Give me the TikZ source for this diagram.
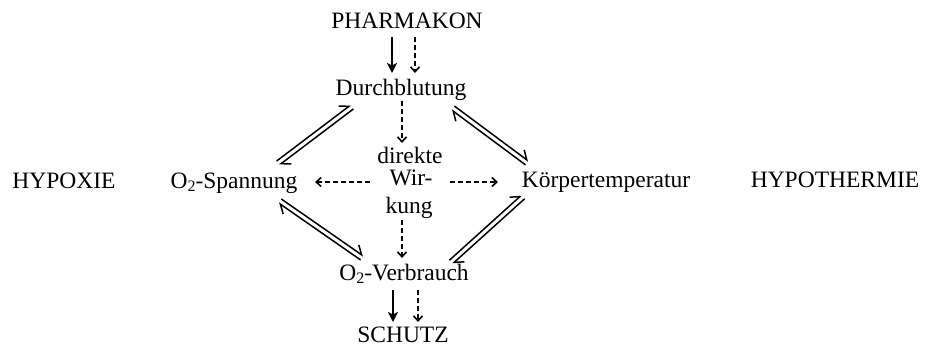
\documentclass[tikz,border=0pt]{standalone}
\usepackage{fontspec}
\setmainfont{Liberation Serif}
\usetikzlibrary{arrows.meta,calc}

% O with a lowered, small "2"
\newcommand\Otwo{O\raisebox{-0.14em}{\fontsize{16}{16}\selectfont 2}}

% two parallel harpoons running in opposite directions between two points
\newcommand\eqpair[2]{%
  \draw[harp] ($(#1)!2.4pt!90:(#2)$) -- ($(#2)!2.4pt!-90:(#1)$);
  \draw[harp] ($(#2)!2.4pt!90:(#1)$) -- ($(#1)!2.4pt!-90:(#2)$);
}

\tikzset{
  lbl/.style={anchor=base, inner sep=0pt, font=\fontsize{23.5}{28}\selectfont},
  solidarrow/.style={line width=1.9pt, -{Stealth[length=10pt,width=10pt,inset=2.5pt]}},
  dasharrow/.style={line width=1.2pt, dash pattern=on 5pt off 3pt,
    -{Straight Barb[length=5pt,width=9pt,line width=1.6pt]}},
  harp/.style={line width=1.5pt, -{Straight Barb[harpoon,left,length=8pt,width=13pt,line width=1.5pt]}},
}

\begin{document}
\begin{tikzpicture}[x=1pt,y=-1pt]
  \useasboundingbox (0,0) rectangle (926,348);

  % labels
  \node[lbl] (hypox)   at (64,188)  {HYPOXIE};
  \node[lbl] (o2sp)    at (234,188) {\Otwo-Spannung};
  \node[lbl] (pharm)   at (407,28)  {PHARMAKON};
  \node[lbl] (durch)   at (401,95)  {Durchblutung};
  \node[lbl] (direkte) at (410,163) {direkte};
  \node[lbl] (wir)     at (411,185) {Wir-};
  \node[lbl] (kung)    at (409,213) {kung};
  \node[lbl] (koerp)   at (606,187) {Körpertemperatur};
  \node[lbl] (hypoth)  at (835,187) {HYPOTHERMIE};
  \node[lbl] (o2v)     at (404,280) {\Otwo-Verbrauch};
  \node[lbl] (schutz)  at (403,342) {SCHUTZ};

  % drug acting on blood flow
  \draw[solidarrow] ([xshift=-15pt,yshift=-9pt]pharm.base) -- ([xshift=-9pt,yshift=22pt]durch.base);
  \draw[dasharrow]  ([xshift=8pt,yshift=-9pt]pharm.base)   -- ([xshift=14pt,yshift=22pt]durch.base);

  % direct effect
  \draw[dasharrow] ([xshift=1pt,yshift=-6pt]durch.base)  -- ([xshift=-8pt,yshift=20pt]direkte.base);
  \draw[dasharrow] ([xshift=-41pt,yshift=3pt]wir.base)   -- ([xshift=81pt,yshift=6pt]o2sp.base);
  \draw[dasharrow] ([xshift=39pt,yshift=3pt]wir.base)    -- ([xshift=-108pt,yshift=5pt]koerp.base);
  \draw[dasharrow] ([xshift=-7pt,yshift=-7pt]kung.base)  -- ([xshift=-2pt,yshift=22pt]o2v.base);

  % oxygen consumption leading to protection
  \draw[solidarrow] ([xshift=-11pt,yshift=-10pt]o2v.base) -- ([xshift=-10pt,yshift=20pt]schutz.base);
  \draw[dasharrow]  ([xshift=14pt,yshift=-10pt]o2v.base)  -- ([xshift=15pt,yshift=20pt]schutz.base);

  % ends of the mutual interactions
  \coordinate (aP) at ([shift={(44pt,25pt)}]o2sp.base);
  \coordinate (aQ) at ([shift={(-49pt,-12pt)}]durch.base);
  \coordinate (bP) at ([shift={(52pt,-13pt)}]durch.base);
  \coordinate (bQ) at ([shift={(-79pt,24pt)}]koerp.base);
  \coordinate (cP) at ([shift={(46pt,-13pt)}]o2sp.base);
  \coordinate (cQ) at ([shift={(-42pt,22pt)}]o2v.base);
  \coordinate (dP) at ([shift={(47pt,18pt)}]o2v.base);
  \coordinate (dQ) at ([shift={(-83pt,-10pt)}]koerp.base);

  \eqpair{aP}{aQ}
  \eqpair{bP}{bQ}
  \eqpair{cP}{cQ}
  \eqpair{dP}{dQ}
\end{tikzpicture}
\end{document}
